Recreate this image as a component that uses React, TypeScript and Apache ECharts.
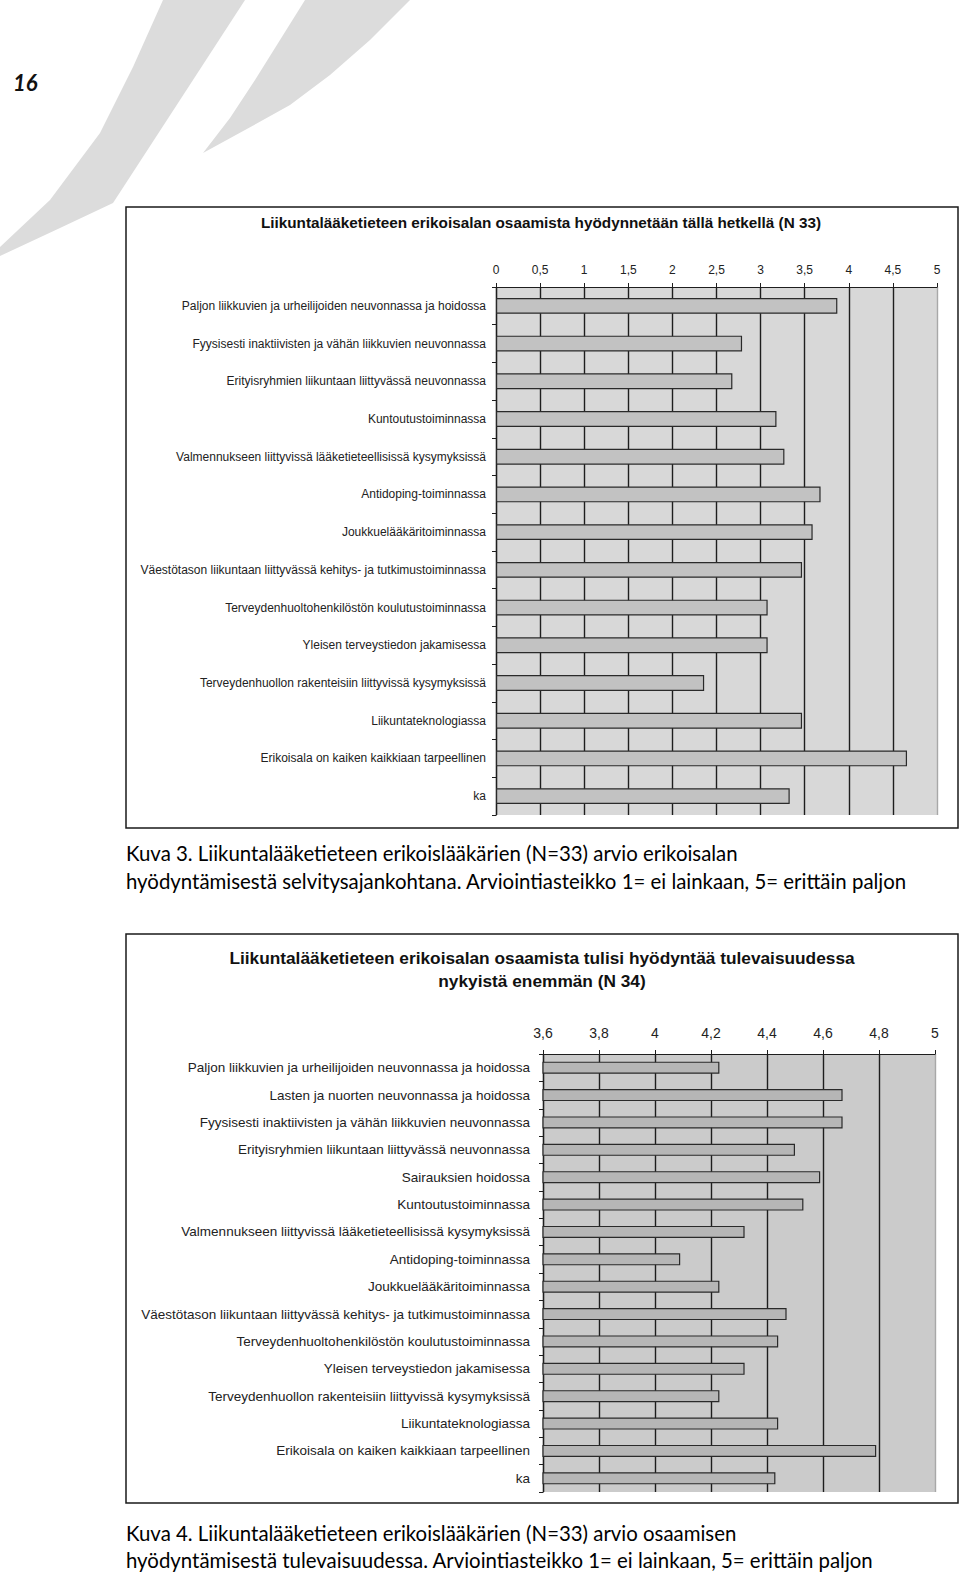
import React, { useEffect, useRef } from "react";
import * as echarts from "echarts";

// ---- Chart 1 (Kuva 3) ----
const title1 = "Liikuntalääketieteen erikoisalan osaamista hyödynnetään tällä hetkellä (N 33)";
const categories1 = [
  "Paljon liikkuvien ja urheilijoiden neuvonnassa ja hoidossa",
  "Fyysisesti inaktiivisten ja vähän liikkuvien neuvonnassa",
  "Erityisryhmien liikuntaan liittyvässä neuvonnassa",
  "Kuntoutustoiminnassa",
  "Valmennukseen liittyvissä lääketieteellisissä kysymyksissä",
  "Antidoping-toiminnassa",
  "Joukkuelääkäritoiminnassa",
  "Väestötason liikuntaan liittyvässä kehitys- ja tutkimustoiminnassa",
  "Terveydenhuoltohenkilöstön koulutustoiminnassa",
  "Yleisen terveystiedon jakamisessa",
  "Terveydenhuollon rakenteisiin liittyvissä kysymyksissä",
  "Liikuntateknologiassa",
  "Erikoisala on kaiken kaikkiaan tarpeellinen",
  "ka",
];
const values1 = [3.87, 2.79, 2.68, 3.18, 3.27, 3.68, 3.59, 3.47, 3.08, 3.08, 2.36, 3.47, 4.66, 3.33];
const ticks1 = ["0", "0,5", "1", "1,5", "2", "2,5", "3", "3,5", "4", "4,5", "5"];

// ---- Chart 2 (Kuva 4) ----
const title2a = "Liikuntalääketieteen erikoisalan osaamista tulisi hyödyntää tulevaisuudessa";
const title2b = "nykyistä enemmän (N 34)";
const categories2 = [
  "Paljon liikkuvien ja urheilijoiden neuvonnassa ja hoidossa",
  "Lasten ja nuorten neuvonnassa ja hoidossa",
  "Fyysisesti inaktiivisten ja vähän liikkuvien neuvonnassa",
  "Erityisryhmien liikuntaan liittyvässä neuvonnassa",
  "Sairauksien hoidossa",
  "Kuntoutustoiminnassa",
  "Valmennukseen liittyvissä lääketieteellisissä kysymyksissä",
  "Antidoping-toiminnassa",
  "Joukkuelääkäritoiminnassa",
  "Väestötason liikuntaan liittyvässä kehitys- ja tutkimustoiminnassa",
  "Terveydenhuoltohenkilöstön koulutustoiminnassa",
  "Yleisen terveystiedon jakamisessa",
  "Terveydenhuollon rakenteisiin liittyvissä kysymyksissä",
  "Liikuntateknologiassa",
  "Erikoisala on kaiken kaikkiaan tarpeellinen",
  "ka",
];
const values2 = [4.23, 4.67, 4.67, 4.5, 4.59, 4.53, 4.32, 4.09, 4.23, 4.47, 4.44, 4.32, 4.23, 4.44, 4.79, 4.43];
const ticks2 = ["3,6", "3,8", "4", "4,2", "4,4", "4,6", "4,8", "5"];

// ---- Page texts ----
const pageNumber = "16";
const caption3 = [
  "Kuva 3. Liikuntalääketieteen erikoislääkärien (N=33) arvio erikoisalan",
  "hyödyntämisestä selvitysajankohtana. Arviointiasteikko 1= ei lainkaan, 5= erittäin paljon",
];
const caption4 = [
  "Kuva 4. Liikuntalääketieteen erikoislääkärien (N=33) arvio osaamisen",
  "hyödyntämisestä tulevaisuudessa. Arviointiasteikko 1= ei lainkaan, 5= erittäin paljon",
];

const chartFont = "'Liberation Sans', Arial, sans-serif";
const captionFont = "Lato, 'Open Sans', sans-serif";

function gridColors(n: number, last: string) {
  const arr: string[] = [];
  for (let i = 0; i < n; i++) arr.push(i === n - 1 ? last : "#1e1e1e");
  return arr;
}

export default function App() {
  const ref = useRef<HTMLDivElement>(null);
  useEffect(() => {
    if (!ref.current) return;
    const chart = echarts.init(ref.current, null, { renderer: "svg" });
    const option: any = {
      animation: false,
      backgroundColor: "#ffffff",
      grid: [
        { left: 496, top: 287, width: 441, height: 528, show: true, backgroundColor: "#d8d8d8", borderWidth: 0 },
        { left: 543, top: 1054, width: 392, height: 438, show: true, backgroundColor: "#cbcbcb", borderWidth: 0 },
      ],
      xAxis: [
        {
          gridIndex: 0, type: "value", position: "top", min: 0, max: 5, interval: 0.5,
          axisLine: { show: true, lineStyle: { color: "#1e1e1e", width: 1.2 } },
          axisTick: { show: true, length: 4, lineStyle: { color: "#1e1e1e" } },
          splitLine: { show: true, lineStyle: { color: gridColors(11, "#a8a8a8"), width: 1.4 } },
          axisLabel: {
            margin: 11, fontSize: 12, color: "#222", fontFamily: chartFont,
            formatter: (_v: number, i: number) => ticks1[i],
          },
        },
        {
          gridIndex: 1, type: "value", position: "top", min: 3.6, max: 5, interval: 0.2,
          axisLine: { show: true, lineStyle: { color: "#1e1e1e", width: 1.2 } },
          axisTick: { show: true, length: 4, lineStyle: { color: "#1e1e1e" } },
          splitLine: { show: true, lineStyle: { color: gridColors(8, "#a8a8a8"), width: 1.4 } },
          axisLabel: {
            margin: 14, fontSize: 14, color: "#222", fontFamily: chartFont,
            formatter: (_v: number, i: number) => ticks2[i],
          },
        },
      ],
      yAxis: [
        {
          gridIndex: 0, type: "category", inverse: true, data: categories1,
          axisLine: { show: true, lineStyle: { color: "#1e1e1e", width: 1.2 } },
          axisTick: { show: true, length: 4, lineStyle: { color: "#1e1e1e" } },
          axisLabel: { margin: 10, fontSize: 12, color: "#222", fontFamily: chartFont },
        },
        {
          gridIndex: 1, type: "category", inverse: true, data: categories2,
          axisLine: { show: true, lineStyle: { color: "#1e1e1e", width: 1.2 } },
          axisTick: { show: true, length: 4, lineStyle: { color: "#1e1e1e" } },
          axisLabel: { margin: 13, fontSize: 13.5, color: "#222", fontFamily: chartFont },
        },
      ],
      series: [
        {
          type: "bar", xAxisIndex: 0, yAxisIndex: 0, data: values1, barWidth: "42%",
          itemStyle: { color: "#c2c2c2", borderColor: "#2a2a2a", borderWidth: 1.2 },
        },
        {
          type: "bar", xAxisIndex: 1, yAxisIndex: 1, data: values2, barWidth: "44%",
          itemStyle: { color: "#b6b6b6", borderColor: "#2a2a2a", borderWidth: 1.2 },
        },
      ],
      graphic: [
        // decorative swooshes
        {
          type: "polygon", z: -10, silent: true,
          shape: { points: [[163, 0], [245, 0], [180, 100], [113, 203], [60, 228], [0, 256], [0, 247], [50, 200], [100, 133], [133, 67]] },
          style: { fill: "#dcdcdc" },
        },
        {
          type: "polygon", z: -10, silent: true,
          shape: { points: [[305, 0], [410, 0], [370, 40], [330, 75], [290, 105], [245, 130], [203, 153], [230, 118], [255, 80], [280, 40]] },
          style: { fill: "#dcdcdc" },
        },
        {
          type: "text", left: 13, top: 71,
          style: { text: pageNumber, font: "italic bold 22px " + captionFont, fill: "#111" },
        },
        // frames
        {
          type: "rect", shape: { x: 126, y: 207, width: 832, height: 621 },
          style: { fill: "none", stroke: "#1a1a1a", lineWidth: 1.5 }, z: 10,
        },
        {
          type: "rect", shape: { x: 126, y: 934, width: 832, height: 569 },
          style: { fill: "none", stroke: "#1a1a1a", lineWidth: 1.5 }, z: 10,
        },
        // chart titles
        {
          type: "text", x: 541, y: 222,
          style: { text: title1, font: "bold 15.3px " + chartFont, fill: "#111", align: "center", verticalAlign: "middle" },
        },
        {
          type: "text", x: 542, y: 958,
          style: { text: title2a, font: "bold 17.3px " + chartFont, fill: "#111", align: "center", verticalAlign: "middle" },
        },
        {
          type: "text", x: 542, y: 981,
          style: { text: title2b, font: "bold 17.3px " + chartFont, fill: "#111", align: "center", verticalAlign: "middle" },
        },
        // captions
        ...caption3.map((t, i) => ({
          type: "text", x: 126, y: 853 + i * 28,
          style: { text: t, font: "20.4px " + captionFont, fill: "#000", verticalAlign: "middle" },
        })),
        ...caption4.map((t, i) => ({
          type: "text", x: 126, y: 1533 + i * 27,
          style: { text: t, font: "20.4px " + captionFont, fill: "#000", verticalAlign: "middle" },
        })),
      ],
    };
    chart.setOption(option);
    return () => chart.dispose();
  }, []);
  return (
    <div
      ref={ref}
      style={{ position: "absolute", left: 0, top: 0, width: 960, height: 1573 }}
    />
  );
}
